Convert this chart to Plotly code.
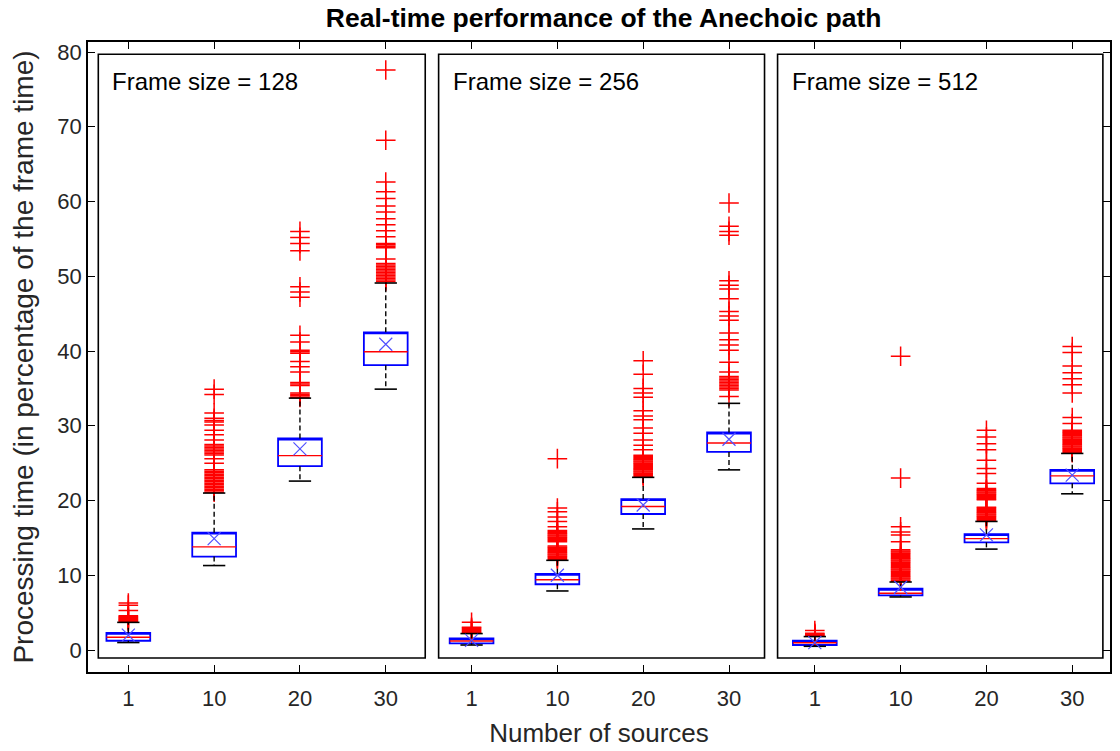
import plotly.graph_objects as go

# ---------------- data ----------------
sources = ["1", "10", "20", "30"]
frame_sizes = [128, 256, 512]
y_ticks = [0, 10, 20, 30, 40, 50, 60, 70, 80]

# frame size 128
q1_128 = [1.24, 12.5, 24.6, 38.1]
med_128 = [1.7, 13.8, 26.0, 39.9]
q3_128 = [2.3, 15.7, 28.3, 42.5]
lo_128 = [1.0, 11.3, 22.6, 34.9]
hi_128 = [3.7, 21.0, 33.7, 49.1]
mean_128 = [2.0, 14.9, 26.9, 40.9]
out_128 = [
    [3.8, 3.9, 4.0, 4.1, 4.2, 4.3, 4.4, 4.5, 4.6, 5.3, 6.0, 6.3],
    [21.1, 21.3, 21.5, 21.7, 21.9, 22.1, 22.3, 22.5, 22.7, 22.9, 23.1, 23.3, 23.5, 23.7,
     23.9, 24.1, 25.0, 25.6, 26.1, 26.3, 26.5, 26.7, 26.9, 27.1, 27.3, 27.5, 28.1, 28.8,
     29.4, 30.1, 30.5, 30.7, 31.0, 31.7, 34.2, 34.9],
    [33.8, 34.0, 34.2, 34.4, 35.4, 35.6, 35.8, 37.2, 37.9, 38.6, 39.7, 39.9, 40.1, 41.2,
     42.1, 47.2, 47.9, 48.6, 53.4, 54.4, 55.2, 56.0],
    [49.3, 49.5, 49.7, 49.9, 50.1, 50.3, 50.5, 50.7, 50.9, 51.1, 51.3, 51.5, 51.7, 52.3,
     53.8, 54.0, 54.2, 54.4, 55.3, 56.1, 56.9, 57.7, 58.6, 59.4, 60.4, 61.3, 62.6, 68.2,
     77.6],
]

# frame size 256
q1_256 = [0.89, 8.8, 18.2, 26.5]
med_256 = [1.2, 9.4, 19.2, 27.7]
q3_256 = [1.56, 10.2, 20.2, 29.1]
lo_256 = [0.67, 7.9, 16.2, 24.1]
hi_256 = [2.2, 12.0, 23.1, 33.0]
mean_256 = [1.3, 10.0, 19.4, 28.2]
out_256 = [
    [2.3, 2.45, 2.6, 2.75, 2.9, 3.05, 3.7],
    [12.1, 12.25, 12.4, 12.55, 12.7, 12.85, 13.0, 13.15, 13.3, 13.45, 13.6, 13.75, 13.9,
     14.5, 14.65, 14.8, 14.95, 15.1, 15.25, 15.4, 15.55, 15.7, 15.85, 16.0, 16.5, 17.2,
     17.8, 18.5, 19.0, 25.6],
    [23.2, 23.35, 23.5, 23.65, 23.8, 23.95, 24.1, 24.25, 24.4, 24.55, 24.7, 24.85, 25.0,
     25.15, 25.3, 25.45, 25.6, 25.75, 25.9, 26.05, 26.8, 27.4, 28.1, 29.0, 29.7, 30.8,
     31.3, 32.0, 33.8, 34.4, 35.0, 36.9, 38.7],
    [33.9, 34.8, 35.0, 35.2, 35.4, 35.6, 35.8, 36.0, 36.2, 36.4, 36.6, 37.2, 38.5, 40.1,
     40.8, 41.5, 42.4, 44.1, 44.7, 45.3, 47.0, 48.3, 48.8, 49.4, 55.5, 56.0, 56.7, 59.8],
]

# frame size 512
q1_512 = [0.67, 7.3, 14.4, 22.3]
med_512 = [0.98, 7.6, 14.9, 23.3]
q3_512 = [1.25, 8.2, 15.5, 24.1]
lo_512 = [0.5, 7.1, 13.5, 20.9]
hi_512 = [1.8, 9.1, 17.2, 26.3]
mean_512 = [1.0, 8.4, 15.4, 23.4]
out_512 = [
    [1.85, 1.95, 2.05, 2.15, 2.25, 2.6],
    [9.2, 9.35, 9.5, 9.65, 9.8, 9.95, 10.1, 10.25, 10.4, 10.55, 10.7, 10.85, 11.0, 11.15,
     11.3, 11.45, 11.6, 11.75, 11.9, 12.05, 12.2, 12.35, 12.5, 12.65, 12.8, 12.95, 13.1,
     13.25, 13.4, 14.5, 15.4, 15.8, 16.5, 23.0, 39.3],
    [17.3, 17.45, 17.6, 17.75, 17.9, 18.05, 18.2, 18.35, 18.5, 18.65, 18.8, 18.95, 19.1,
     20.1, 20.25, 20.4, 20.55, 20.7, 20.85, 21.0, 21.15, 21.3, 21.45, 21.6, 22.3, 23.6,
     24.3, 25.4, 26.8, 27.6, 28.5, 29.4],
    [26.4, 26.55, 26.7, 26.85, 27.0, 27.15, 27.3, 27.45, 27.6, 27.75, 27.9, 28.05, 28.2,
     28.35, 28.5, 28.65, 28.8, 28.95, 29.1, 29.25, 29.4, 30.3, 31.1, 34.4, 35.5, 36.3,
     37.1, 38.0, 39.8, 40.6],
]

# ---------------- styling constants ----------------
FONT = "Liberation Sans, Arial, sans-serif"
BOX_W = 0.51      # box width in category units
CAP_W = 0.26      # whisker cap width
BLUE = "rgb(0,0,255)"
RED = "rgb(255,0,0)"

panels = [
    (q1_128, med_128, q3_128, lo_128, hi_128, mean_128, out_128),
    (q1_256, med_256, q3_256, lo_256, hi_256, mean_256, out_256),
    (q1_512, med_512, q3_512, lo_512, hi_512, mean_512, out_512),
]

pos, Q1, MED, Q3, LO, HI, MEAN = [], [], [], [], [], [], []
out_x, out_y = [], []
for p, (q1, med, q3, lo, hi, mn, outs) in enumerate(panels):
    for i in range(len(sources)):
        x = p * len(sources) + i + 1
        pos.append(x)
        Q1.append(q1[i]); MED.append(med[i]); Q3.append(q3[i])
        LO.append(lo[i]); HI.append(hi[i]); MEAN.append(mn[i])
        for v in outs[i]:
            out_x.append(x)
            out_y.append(v)

# whisker segments (dashed)
wx, wy = [], []
for x, a, b, c, d in zip(pos, Q3, HI, Q1, LO):
    wx += [x, x, None, x, x, None]
    wy += [a, b, None, c, d, None]
# caps
cx, cy = [], []
for x, b, d in zip(pos, HI, LO):
    cx += [x - CAP_W / 2, x + CAP_W / 2, None, x - CAP_W / 2, x + CAP_W / 2, None]
    cy += [b, b, None, d, d, None]
# medians
mx, my = [], []
for x, m in zip(pos, MED):
    mx += [x - BOX_W / 2, x + BOX_W / 2, None]
    my += [m, m, None]

fig = go.Figure()

fig.add_trace(go.Scatter(
    x=out_x, y=out_y, mode="markers", name="Outliers",
    marker=dict(symbol="cross-thin", size=14, line=dict(color=RED, width=1.5)),
    showlegend=False, hoverinfo="y"))

fig.add_trace(go.Scatter(
    x=wx, y=wy, mode="lines", line=dict(color="black", width=1.4, dash="5px,3px"),
    showlegend=False, hoverinfo="skip"))
fig.add_trace(go.Scatter(
    x=cx, y=cy, mode="lines", line=dict(color="black", width=1.6),
    showlegend=False, hoverinfo="skip"))

# blue box outline (its own median line sits on the upper edge; the red median is drawn separately)
fig.add_trace(go.Box(
    x=pos, q1=Q1, median=Q3, q3=Q3, lowerfence=Q1, upperfence=Q3,
    width=BOX_W, line=dict(color=BLUE, width=1.8), fillcolor="rgba(0,0,0,0)",
    boxpoints=False, showlegend=False, whiskerwidth=0, hoverinfo="skip"))

fig.add_trace(go.Scatter(
    x=mx, y=my, mode="lines", line=dict(color=RED, width=1.4),
    showlegend=False, hoverinfo="skip"))

fig.add_trace(go.Scatter(
    x=pos, y=MEAN, mode="markers", name="Mean",
    marker=dict(symbol="x-thin", size=13, line=dict(color="rgb(80,80,255)", width=1.2)),
    showlegend=False))

# panel frames and labels
panel_edges = [(0.65, 4.46), (4.616, 8.414), (8.566, 12.357)]
shapes, annotations = [], []
for (x0, x1), fs in zip(panel_edges, frame_sizes):
    shapes.append(dict(type="rect", xref="x", yref="y", x0=x0, x1=x1, y0=-1.07, y1=79.7,
                       line=dict(color="black", width=1.6), layer="below"))
    annotations.append(dict(x=x0 + 0.14, y=76.0, xref="x", yref="y", xanchor="left",
                            yanchor="middle", showarrow=False,
                            text=f"Frame size = {fs}",
                            font=dict(family=FONT, size=24, color="black")))

fig.update_layout(
    width=1120, height=751,
    margin=dict(l=88, r=10, t=42, b=79),
    paper_bgcolor="white", plot_bgcolor="white",
    boxmode="overlay",
    title=dict(text="<b>Real-time performance of the Anechoic path</b>",
               x=0.539, xref="container", y=1 - 18 / 751, yref="container",
               xanchor="center", yanchor="middle",
               font=dict(family=FONT, size=26.5, color="black")),
    font=dict(family=FONT, color="#262626"),
    shapes=shapes, annotations=annotations,
    xaxis=dict(range=[0.530, 12.44], tickvals=pos, ticktext=sources * len(frame_sizes),
               ticks="inside", ticklen=7, tickcolor="black", showline=True,
               linecolor="black", linewidth=1.6, mirror="ticks", showgrid=False,
               zeroline=False, tickfont=dict(family=FONT, size=22, color="#262626"),
               ticklabelstandoff=6, automargin=False,
               title=dict(text="Number of sources", standoff=14,
                          font=dict(family=FONT, size=26, color="#262626"))),
    yaxis=dict(range=[-2.94, 81.34], tickvals=y_ticks, ticks="inside", ticklen=7,
               tickcolor="black", showline=True, linecolor="black", linewidth=1.6,
               mirror="ticks", showgrid=False, zeroline=False, automargin=False,
               tickfont=dict(family=FONT, size=22, color="#262626"),
               title=dict(text="Processing time (in percentage of the frame time)",
                          standoff=16,
                          font=dict(family=FONT, size=28, color="#262626"))),
)

# remove the browser's default 8px page margin so the figure sits at the window origin
fig.write_html("out.html", config={"displayModeBar": False},
               post_script="document.body.style.margin='0';document.body.style.padding='0';")
